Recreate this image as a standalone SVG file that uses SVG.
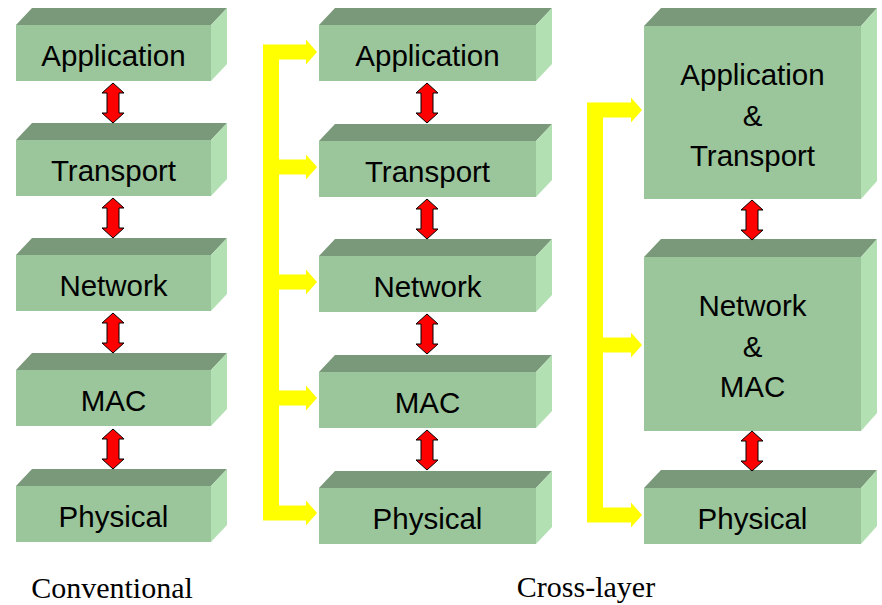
<svg xmlns="http://www.w3.org/2000/svg" xmlns:xlink="http://www.w3.org/1999/xlink" width="882" height="605" viewBox="0 0 882 605">
<style>
.front{fill:#9BC59B}
.top{fill:#7A987A}
.side{fill:#B2E0B2}
.lbl{font-family:"Liberation Sans",Arial,sans-serif;font-size:29.5px;fill:#000;text-anchor:middle}
.cap{font-family:"Liberation Serif","Times New Roman",serif;font-size:30px;fill:#000;text-anchor:middle}
.yel{fill:#FFFF00}
.red{fill:#FF0000;stroke:#000;stroke-width:1}
</style>
<defs>
<path id="dbl" class="red" d="M0,0 L11,10 L6,10 L6,30 L11,30 L0,40 L-11,30 L-6,30 L-6,10 L-11,10 Z"/>
</defs>
<rect width="882" height="605" fill="#fff"/>

<!-- Column 1: Conventional -->
<g id="c1-application">
<polygon class="top" points="16,25 32,8 227,8 211,25"/>
<polygon class="side" points="211,25 227,8 227,64 211,81"/>
<rect class="front" x="16" y="25" width="195" height="56"/>
<text class="lbl" x="113.5" y="66">Application</text>
</g>
<g id="c1-transport">
<polygon class="top" points="16,140 32,123 227,123 211,140"/>
<polygon class="side" points="211,140 227,123 227,179 211,196"/>
<rect class="front" x="16" y="140" width="195" height="56"/>
<text class="lbl" x="113.5" y="181">Transport</text>
</g>
<g id="c1-network">
<polygon class="top" points="16,255 32,238 227,238 211,255"/>
<polygon class="side" points="211,255 227,238 227,294 211,311"/>
<rect class="front" x="16" y="255" width="195" height="56"/>
<text class="lbl" x="113.5" y="296">Network</text>
</g>
<g id="c1-mac">
<polygon class="top" points="16,370 32,353 227,353 211,370"/>
<polygon class="side" points="211,370 227,353 227,409 211,426"/>
<rect class="front" x="16" y="370" width="195" height="56"/>
<text class="lbl" x="113.5" y="411">MAC</text>
</g>
<g id="c1-physical">
<polygon class="top" points="16,486 32,469 227,469 211,486"/>
<polygon class="side" points="211,486 227,469 227,525 211,542"/>
<rect class="front" x="16" y="486" width="195" height="56"/>
<text class="lbl" x="113.5" y="527">Physical</text>
</g>

<!-- Column 2: Cross-layer (layered with shared bus) -->
<g id="c2-application">
<polygon class="top" points="319,25 335,8 552,8 536,25"/>
<polygon class="side" points="536,25 552,8 552,64 536,81"/>
<rect class="front" x="319" y="25" width="217" height="56"/>
<text class="lbl" x="427.5" y="66">Application</text>
</g>
<g id="c2-transport">
<polygon class="top" points="319,141 335,124 552,124 536,141"/>
<polygon class="side" points="536,141 552,124 552,180 536,197"/>
<rect class="front" x="319" y="141" width="217" height="56"/>
<text class="lbl" x="427.5" y="182">Transport</text>
</g>
<g id="c2-network">
<polygon class="top" points="319,256 335,239 552,239 536,256"/>
<polygon class="side" points="536,256 552,239 552,295 536,312"/>
<rect class="front" x="319" y="256" width="217" height="56"/>
<text class="lbl" x="427.5" y="297">Network</text>
</g>
<g id="c2-mac">
<polygon class="top" points="319,372 335,355 552,355 536,372"/>
<polygon class="side" points="536,372 552,355 552,411 536,428"/>
<rect class="front" x="319" y="372" width="217" height="56"/>
<text class="lbl" x="427.5" y="413">MAC</text>
</g>
<g id="c2-physical">
<polygon class="top" points="319,488 335,471 552,471 536,488"/>
<polygon class="side" points="536,488 552,471 552,527 536,544"/>
<rect class="front" x="319" y="488" width="217" height="56"/>
<text class="lbl" x="427.5" y="529">Physical</text>
</g>

<!-- Column 3: Cross-layer (merged) -->
<g id="c3-app-transport">
<polygon class="top" points="644,26 661,8 877,8 861,26"/>
<polygon class="side" points="861,26 877,8 877,181 861,199"/>
<rect class="front" x="644" y="26" width="217" height="173"/>
<text class="lbl" x="752.5" y="85">Application</text>
<text class="lbl" x="752.5" y="126">&amp;</text>
<text class="lbl" x="752.5" y="166">Transport</text>
</g>
<g id="c3-network-mac">
<polygon class="top" points="644,257 661,239 877,239 861,257"/>
<polygon class="side" points="861,257 877,239 877,413 861,431"/>
<rect class="front" x="644" y="257" width="217" height="174"/>
<text class="lbl" x="752.5" y="316">Network</text>
<text class="lbl" x="752.5" y="357">&amp;</text>
<text class="lbl" x="752.5" y="397">MAC</text>
</g>
<g id="c3-physical">
<polygon class="top" points="644,488 661,470 877,470 861,488"/>
<polygon class="side" points="861,488 877,470 877,526 861,544"/>
<rect class="front" x="644" y="488" width="217" height="56"/>
<text class="lbl" x="752.5" y="529">Physical</text>
</g>

<g id="connectors">
<!-- red double arrows -->
<use xlink:href="#dbl" href="#dbl" x="113" y="83"/>
<use xlink:href="#dbl" href="#dbl" x="113" y="198"/>
<use xlink:href="#dbl" href="#dbl" x="113" y="313"/>
<use xlink:href="#dbl" href="#dbl" x="113" y="429"/>
<use xlink:href="#dbl" href="#dbl" x="427" y="83"/>
<use xlink:href="#dbl" href="#dbl" x="427" y="199"/>
<use xlink:href="#dbl" href="#dbl" x="427" y="314"/>
<use xlink:href="#dbl" href="#dbl" x="427" y="430"/>
<use xlink:href="#dbl" href="#dbl" x="752" y="200"/>
<use xlink:href="#dbl" href="#dbl" x="752" y="431"/>

<!-- yellow bus, column 2 -->
<g class="yel">
<rect x="263" y="44.5" width="16" height="476"/>
<rect x="279" y="44.5" width="27" height="15"/>
<polygon points="306,39.5 317,52 306,64.5"/>
<rect x="279" y="159.5" width="27" height="15"/>
<polygon points="306,154.5 317,167 306,179.5"/>
<rect x="279" y="274.5" width="27" height="15"/>
<polygon points="306,269.5 317,282 306,294.5"/>
<rect x="279" y="390.5" width="27" height="15"/>
<polygon points="306,385.5 317,398 306,410.5"/>
<rect x="279" y="505.5" width="27" height="15"/>
<polygon points="306,500.5 317,513 306,525.5"/>
</g>

<!-- yellow bus, column 3 -->
<g class="yel">
<rect x="587" y="102.5" width="16" height="420"/>
<rect x="603" y="102.5" width="28" height="15"/>
<polygon points="631,97.5 642,110 631,122.5"/>
<rect x="603" y="337.5" width="28" height="15"/>
<polygon points="631,332.5 642,345 631,357.5"/>
<rect x="603" y="507.5" width="28" height="15"/>
<polygon points="631,502.5 642,515 631,527.5"/>
</g>
</g>

<text class="cap" x="112" y="598">Conventional</text>
<text class="cap" x="586" y="597">Cross-layer</text>
</svg>
